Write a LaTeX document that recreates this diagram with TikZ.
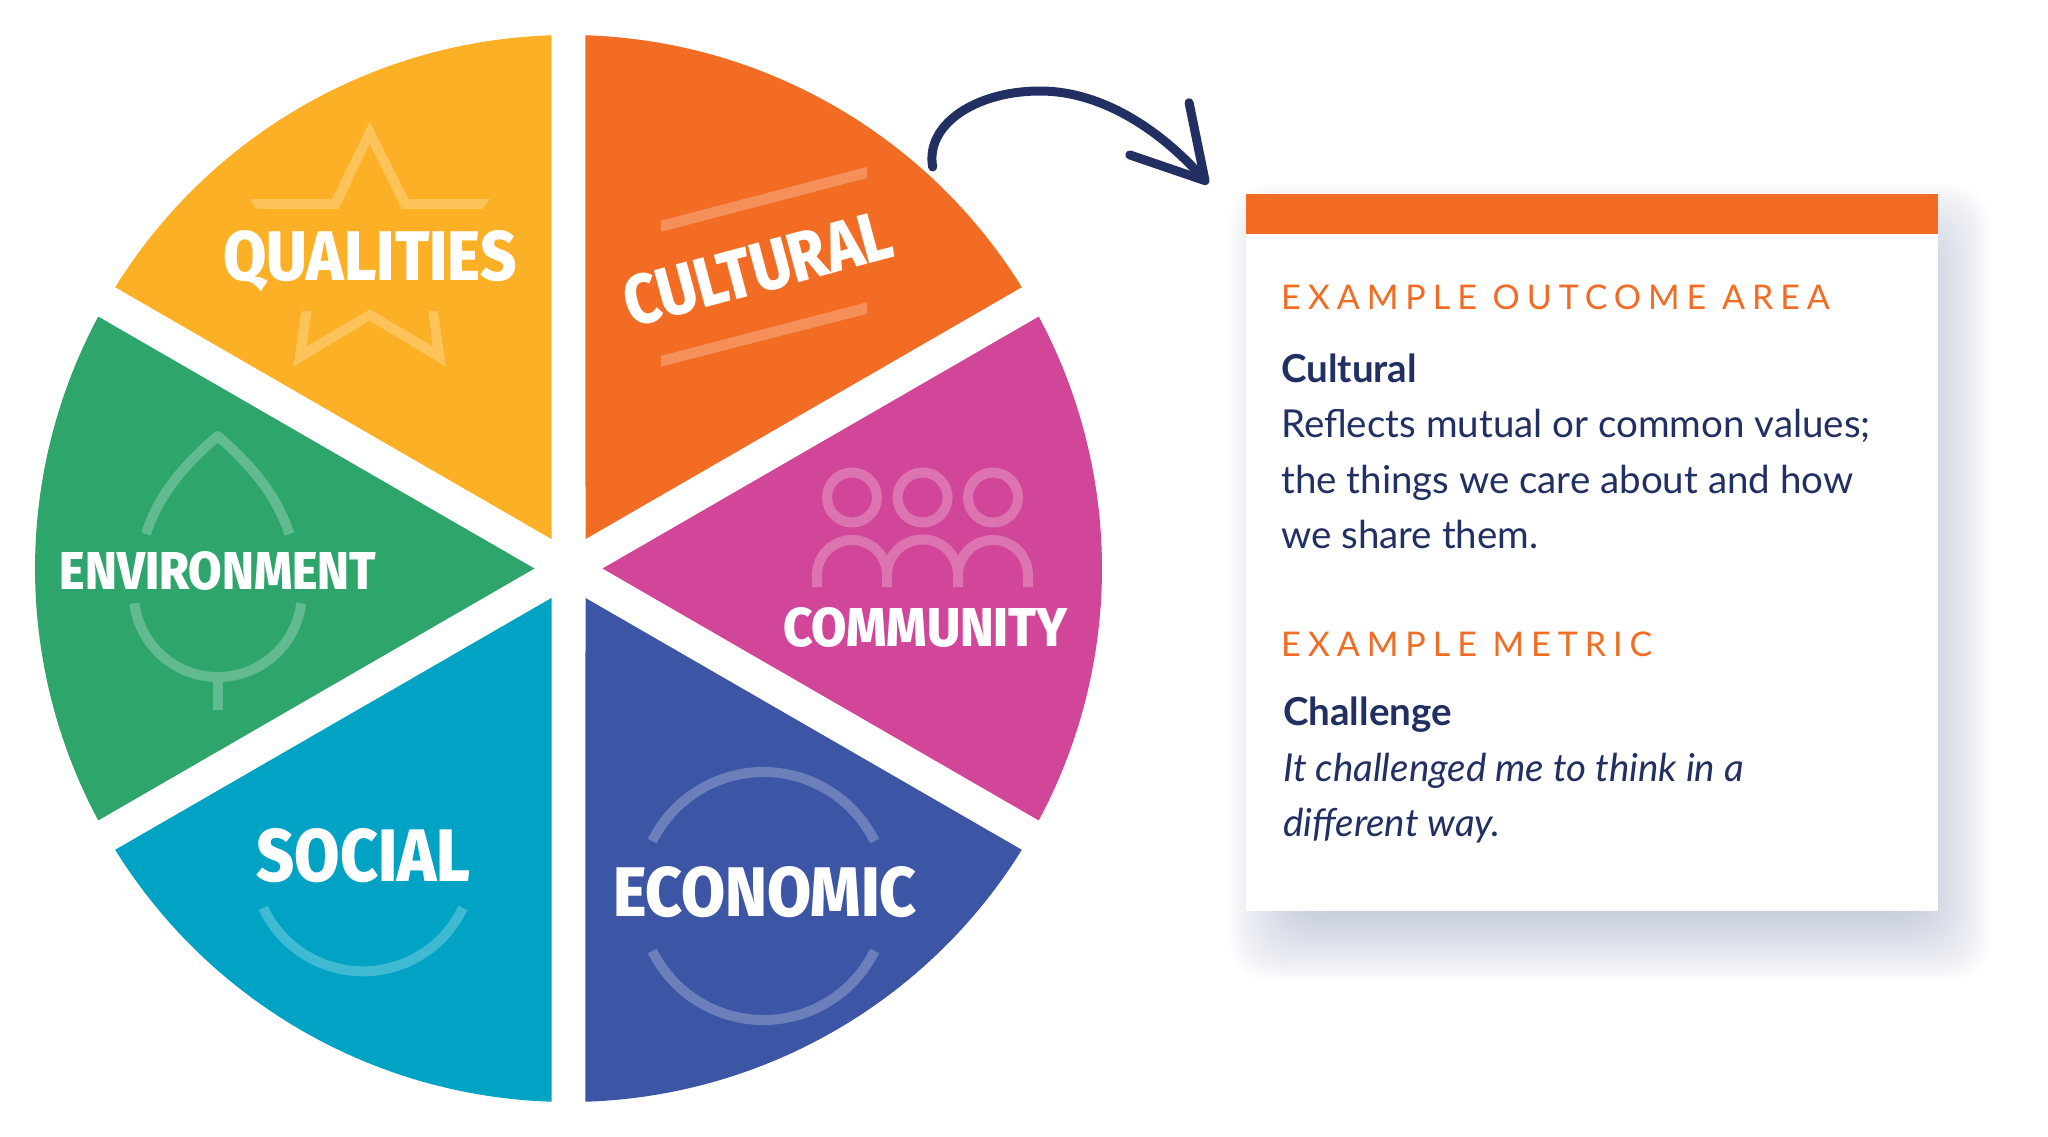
\documentclass[tikz,border=0pt]{standalone}
\usepackage{fontspec}
\setmainfont{Lato}
\newfontfamily\segfont{Fira Sans ExtraBold}
\usetikzlibrary{arrows.meta}
\definecolor{qualcol}{HTML}{FBB025}
\definecolor{cultcol}{HTML}{F26C23}
\definecolor{commcol}{HTML}{D14698}
\definecolor{envcol}{HTML}{2EA56B}
\definecolor{soccol}{HTML}{01A3C4}
\definecolor{econcol}{HTML}{3C55A5}
\definecolor{navy}{HTML}{222F63}
\definecolor{shadowcol}{HTML}{7F8DB0}
\newcommand{\seglabel}[3]{\resizebox{#1pt}{#2pt}{\segfont #3}}
\tikzset{
  seg/.style={text=white,inner sep=0pt,anchor=base},
  faint/.style={draw=white,draw opacity=.25,line width=10pt},
  faintfill/.style={fill=white,fill opacity=.25},
  head/.style={text=cultcol,inner sep=0pt,anchor=base west,font=\fontsize{34}{40}\selectfont\addfontfeature{LetterSpace=20.5}},
  body/.style={text=navy,inner sep=0pt,anchor=base west,align=left,font=\fontsize{38.5}{55.5}\selectfont}
}
\begin{document}
\begin{tikzpicture}[x=1pt,y=-1pt]
  \useasboundingbox (0,0) rectangle (2048,1137);
  \foreach \m/\col in {-60/cultcol,0/commcol,60/econcol,120/soccol,180/envcol,240/qualcol}
    \fill[fill=\col,shift={(568.5,568.5)}] (\m:34) -- (\m-28.18:533.5) arc (\m-28.18:\m+28.18:533.5) -- cycle;

  \fill[faintfill] (249.4,199) -- (332.2,199) -- (369.6,121.7) -- (408.5,199) -- (489.9,199) -- (482.6,209) -- (401.9,209) -- (369.6,143.5) -- (338.8,209) -- (256.7,209) -- cycle;
  \fill[faintfill] (301.4,310.8) -- (311.7,310.8) -- (306.6,346.3) -- (369.6,309.2) -- (432.7,346.3) -- (428.3,310.8) -- (437.8,310.8) -- (445.9,366.6) -- (369.6,320.7) -- (293.4,366.6) -- cycle;
  \node[seg] (qualities) at (370,280.5) {\seglabel{293}{50}{QUALITIES}};

  \fill[faintfill] (660.8,220.8) -- (866.9,166.9) -- (866.9,178) -- (660.8,231.9) -- cycle;
  \fill[faintfill] (660.8,355.9) -- (866.9,302.3) -- (866.9,313.8) -- (660.8,366.6) -- cycle;
  \node[seg,rotate=15] (cultural) at (764,292) {\seglabel{275}{50}{CULTURAL}};

  \draw[faint,line join=round] (146,534) .. controls (160,490) and (190,460) .. (217.8,436) .. controls (245,460) and (275,490) .. (289.4,534);
  \draw[faint] (217.8,682) -- (217.8,710);
  \draw[faint] (217.8,593) ++(173:84) arc (173:7:84);
  \node[seg] (environment) at (218,589.5) {\seglabel{316}{38}{ENVIRONMENT}};

  \foreach \x in {852,922.6,993}
    \draw[faint] (\x,497.5) circle (25);
  \draw[faint] (817,587) -- (817,575) arc (180:360:35) -- (887,587) -- (887,575) arc (180:360:35.5) -- (958,587) -- (958,575) arc (180:360:35) -- (1028,587);
  \node[seg] (community) at (925.5,646.5) {\seglabel{285}{39}{COMMUNITY}};

  \draw[faint] (763.5,896) ++(206.3:124) arc (206.3:333.7:124);
  \draw[faint] (763.5,896) ++(153.7:124) arc (153.7:26.3:124);
  \node[seg] (economic) at (765,916) {\seglabel{303.6}{50}{ECONOMIC}};

  \draw[faint] (363,861) ++(154.8:110.3) arc (154.8:25.2:110.3);
  \node[seg] (social) at (363.7,881) {\seglabel{214}{53}{SOCIAL}};

  \coordinate (arrowstart) at (932.7,167);
  \coordinate (arrowtop) at (1040,91);
  \coordinate (arrowend) at (1208,184);
  \draw[navy,line width=9pt,line cap=round,-{Straight Barb[round,length=69pt,width=79pt]}] (arrowstart) .. controls (925,125) and (975,91) .. (arrowtop) .. controls (1105,91) and (1164,134) .. (arrowend);

  \foreach \i in {0,...,35}
    \fill[shadowcol,fill opacity=.014,rounded corners=40pt] (1229+2*\i,184+2*\i) rectangle (1991-2*\i,981-2*\i);
  \node[fill=white,inner sep=0pt,minimum width=692pt,minimum height=718pt] (panel) at (1592,552) {};
  \node[fill=cultcol,inner sep=0pt,minimum width=692pt,minimum height=40pt] (panelbar) at (1592,213.5) {};

  \node[head] (areahead) at (1281,309.8) {EXAMPLE OUTCOME AREA};
  \node[body] (areatext) at (1281,548.5) {\textbf{Cultural}\\Reflects mutual or common values;\\the things we care about and how\\we share them.};
  \node[head] (metrichead) at (1281,656.2) {EXAMPLE METRIC};
  \node[body] (metrictext) at (1283,836.8) {\textbf{Challenge}\\\textit{It challenged me to think in a}\\\textit{different way.}};
\end{tikzpicture}
\end{document}
